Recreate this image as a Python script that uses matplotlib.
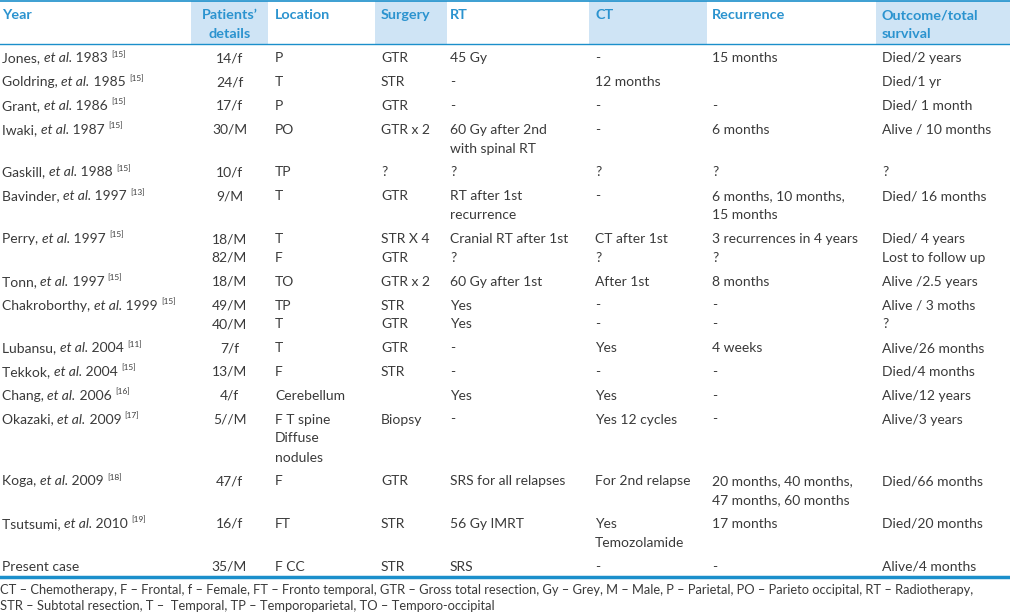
import matplotlib
matplotlib.use("Agg")
import matplotlib.pyplot as plt
from matplotlib.patches import Rectangle

# table content
authors = ["Jones", "Goldring", "Grant", "Iwaki", "Gaskill", "Bavinder", "Perry",
           "Tonn", "Chakroborthy", "Lubansu", "Tekkok", "Chang", "Okazaki",
           "Koga", "Tsutsumi", "Present case"]
years = ["1983", "1985", "1986", "1987", "1988", "1997", "1997", "1997", "1999",
         "2004", "2004", "2006", "2009", "2009", "2010", ""]
refs = ["15", "15", "15", "15", "15", "13", "15", "15", "15", "11", "15", "16",
        "17", "18", "19", ""]
details = ["14/f", "24/f", "17/f", "30/M", "10/f", "9/M", "18/M\n82/M", "18/M",
           "49/M\n40/M", "7/f", "13/M", "4/f", "5//M", "47/f", "16/f", "35/M"]
location = ["P", "T", "P", "PO", "TP", "T", "T\nF", "TO", "TP\nT", "T", "F",
            "Cerebellum", "F T spine\nDiffuse\nnodules", "F", "FT", "F CC"]
surgery = ["GTR", "STR", "GTR", "GTR x 2", "?", "GTR", "STR X 4\nGTR", "GTR x 2",
           "STR\nGTR", "GTR", "STR", "", "Biopsy", "GTR", "STR", "STR"]
rt = ["45 Gy", "-", "-", "60 Gy after 2nd\nwith spinal RT", "?",
      "RT after 1st\nrecurrence", "Cranial RT after 1st\n?", "60 Gy after 1st",
      "Yes\nYes", "-", "-", "Yes", "-", "SRS for all relapses", "56 Gy IMRT", "SRS"]
ct = ["-", "12 months", "-", "-", "?", "-", "CT after 1st\n?", "After 1st",
      "-\n-", "Yes", "-", "Yes", "Yes 12 cycles", "For 2nd relapse",
      "Yes\nTemozolamide", "-"]
recurrence = ["15 months", "", "-", "6 months", "?",
              "6 months, 10 months,\n15 months", "3 recurrences in 4 years\n?",
              "8 months", "-\n-", "4 weeks", "-", "-", "-",
              "20 months, 40 months,\n47 months, 60 months", "17 months", "-"]
outcome = ["Died/2 years", "Died/1 yr", "Died/ 1 month", "Alive / 10 months", "?",
           "Died/ 16 months", "Died/ 4 years\nLost to follow up", "Alive /2.5 years",
           "Alive / 3 moths\n?", "Alive/26 months", "Died/4 months", "Alive/12 years",
           "Alive/3 years", "Died/66 months", "Died/20 months", "Alive/4 months"]

headers = ["Year", "Patients’\ndetails", "Location", "Surgery", "RT", "CT",
           "Recurrence", "Outcome/total\nsurvival"]
footnote = ["CT – Chemotherapy, F – Frontal, f – Female, FT – Fronto temporal, GTR – Gross total resection, Gy – Grey, M – Male, P – Parietal, PO – Parieto occipital, RT – Radiotherapy,",
            "STR – Subtotal resection, T –  Temporal, TP – Temporoparietal, TO – Temporo-occipital"]

FONT = "Lato"
FS = 10
TXT = "#3a3a3a"
HEAD = "#2b93cf"
FILL = "#cfe4f5"
LINE = "#1b8fcb"

fig = plt.figure(figsize=(10.10, 6.13), dpi=100)
ax = fig.add_axes([0, 0, 1, 1])
ax.set_xlim(0, 1010)
ax.set_ylim(613, 0)
ax.axis("off")
renderer = fig.canvas.get_renderer()

# column left edges (details column is centred)
col_x = [2, 229.5, 275, 381, 450, 595, 712, 882]
shaded = [(191, 268), (375, 447), (589, 707), (876, 1010)]

# header
for x0, x1 in shaded:
    ax.add_patch(Rectangle((x0, 1), x1 - x0, 43, facecolor=FILL, edgecolor="none"))
ax.plot([0, 1010], [1, 1], color=LINE, lw=1.2)
ax.plot([0, 1010], [44, 44], color=LINE, lw=1.0)
for i, h in enumerate(headers):
    for k, line in enumerate(h.split("\n")):
        ax.text(col_x[i], 15 + k * 19, line, ha="center" if i == 1 else "left",
                va="center", color=HEAD, fontsize=10.4, fontweight="bold", family=FONT)

LINE_H = 19
ROW_H = 23.75
y = 58.5
columns = [details, location, surgery, rt, ct, recurrence, outcome]
for r in range(len(authors)):
    # first column: author, italic et al., year, reference
    x = col_x[0]
    pieces = [(authors[r] + (", " if years[r] else ""), "normal")]
    if years[r]:
        pieces += [("et al.", "italic"), (" " + years[r] + " ", "normal")]
    for s, style in pieces:
        t = ax.text(x, y, s, ha="left", va="center", color=TXT, fontsize=FS,
                    fontstyle=style, family=FONT)
        x = t.get_window_extent(renderer).x1
    if refs[r]:
        ax.text(x, y - 4, "[" + refs[r] + "]", ha="left", va="center", color=TXT,
                fontsize=6, family=FONT)
    nlines = 1
    for c, col in enumerate(columns):
        lines = col[r].split("\n")
        nlines = max(nlines, len(lines))
        for k, line in enumerate(lines):
            ax.text(col_x[c + 1], y + k * LINE_H, line,
                    ha="center" if c == 0 else "left", va="center",
                    color=TXT, fontsize=FS, family=FONT)
    y += ROW_H + (nlines - 1) * LINE_H

ax.plot([0, 1010], [577, 577], color=LINE, lw=2.5)
for k, line in enumerate(footnote):
    ax.text(0, 590.5 + k * 16, line, ha="left", va="center", color=TXT,
            fontsize=9.25, family=FONT)

fig.savefig("out.png", dpi=100)
